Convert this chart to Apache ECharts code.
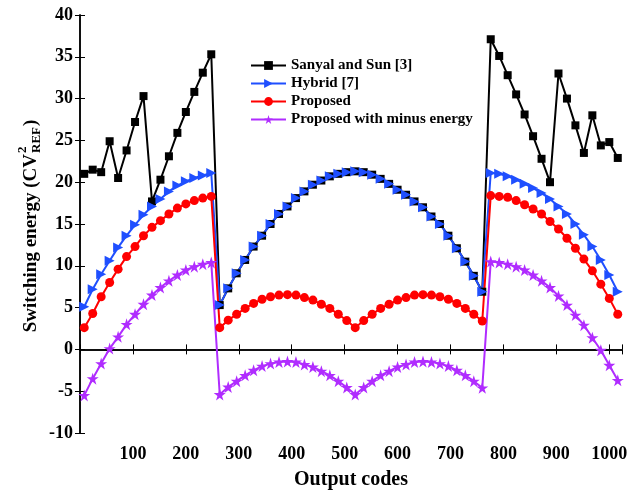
<!DOCTYPE html>
<html>
<head>
<meta charset="utf-8">
<script src="https://cdn.jsdelivr.net/npm/echarts@6/dist/echarts.min.js"></script>
<style>
    html, body {margin: 0; padding: 0; background: #fff;}
    #chart {width: 638px; height: 495px;}
</style>
</head>
<body>
<div id="chart"></div>
<script>
// output codes where markers sit
var codes = [8, 24, 40, 56, 72, 88, 104, 120, 136, 152, 168, 184, 200, 216, 232, 248,
    264, 280, 296, 312, 328, 344, 360, 376, 392, 408, 424, 440, 456, 472, 488, 504,
    520, 536, 552, 568, 584, 600, 616, 632, 648, 664, 680, 696, 712, 728, 744, 760,
    776, 792, 808, 824, 840, 856, 872, 888, 904, 920, 936, 952, 968, 984, 1000, 1016];

var sanyal = [21.0, 21.5, 21.2, 24.9, 20.5, 23.8, 27.2, 30.3, 17.7, 20.3, 23.1, 25.9, 28.4, 30.8, 33.1, 35.3,
    5.3, 7.3, 9.1, 10.7, 12.3, 13.6, 15.0, 16.2, 17.1, 18.1, 18.9, 19.7, 20.2, 20.7, 21.0, 21.2,
    21.3, 21.2, 20.9, 20.4, 19.8, 19.1, 18.5, 17.7, 17.0, 15.9, 15.0, 13.6, 12.1, 10.5, 8.8, 6.9,
    37.1, 35.1, 32.8, 30.5, 28.1, 25.5, 22.8, 20.0, 33.0, 30.0, 26.8, 23.5, 28.0, 24.4, 24.8, 22.9];

var hybrid = [5.1, 7.2, 9.0, 10.6, 12.2, 13.6, 14.9, 16.1, 17.1, 18.0, 18.9, 19.6, 20.1, 20.5, 20.8, 21.1,
    5.3, 7.3, 9.1, 10.7, 12.3, 13.6, 15.0, 16.2, 17.1, 18.1, 18.9, 19.7, 20.2, 20.7, 21.0, 21.2,
    21.3, 21.2, 20.9, 20.4, 19.8, 19.1, 18.5, 17.7, 17.0, 15.9, 15.0, 13.6, 12.1, 10.5, 8.8, 6.9,
    21.1, 21.0, 20.7, 20.3, 19.8, 19.3, 18.7, 18.0, 17.1, 16.2, 15.0, 13.7, 12.3, 10.7, 8.9, 6.9];

var proposed = [2.6, 4.3, 6.3, 8.0, 9.6, 11.1, 12.3, 13.6, 14.6, 15.4, 16.2, 16.9, 17.4, 17.8, 18.1, 18.3,
    2.6, 3.5, 4.2, 4.9, 5.5, 6.0, 6.3, 6.5, 6.55, 6.5, 6.2, 5.9, 5.4, 4.9, 4.2, 3.45,
    2.6, 3.45, 4.2, 4.9, 5.4, 5.9, 6.2, 6.5, 6.55, 6.5, 6.3, 6.0, 5.5, 4.9, 4.2, 3.4,
    18.4, 18.3, 18.2, 17.8, 17.3, 16.8, 16.2, 15.3, 14.4, 13.3, 12.1, 10.8, 9.4, 7.8, 6.1, 4.2];

var minusEnergy = [-5.5, -3.5, -1.7, 0.1, 1.5, 3.0, 4.2, 5.4, 6.5, 7.4, 8.2, 8.9, 9.5, 9.9, 10.2, 10.4,
    -5.4, -4.5, -3.8, -3.1, -2.5, -2.0, -1.7, -1.5, -1.45, -1.5, -1.8, -2.1, -2.6, -3.1, -3.8, -4.55,
    -5.4, -4.55, -3.8, -3.1, -2.6, -2.1, -1.8, -1.5, -1.45, -1.5, -1.7, -2.0, -2.5, -3.1, -3.8, -4.6,
    10.5, 10.4, 10.2, 9.9, 9.5, 8.9, 8.2, 7.4, 6.4, 5.3, 4.1, 2.9, 1.4, -0.1, -1.9, -3.7];

var seriesNames = ['Sanyal and Sun [3]', 'Hybrid [7]', 'Proposed', 'Proposed with minus energy'];
var xTicks = [100, 200, 300, 400, 500, 600, 700, 800, 900, 1000];

var FONT = 'Liberation Serif';

function pairs(ys) {
    return codes.map(function (c, i) { return [c, ys[i]]; });
}

function textWidth(str, size) {
    var ctx = document.createElement('canvas').getContext('2d');
    ctx.font = 'bold ' + size + 'px "' + FONT + '"';
    return ctx.measureText(str).width;
}

// y axis title with stacked super/subscript
function yTitle() {
    var main = 'Switching energy (CV';
    var w1 = textWidth(main, 19);
    var wRef = textWidth('REF', 13);
    var total = w1 + 1 + wRef + 1 + textWidth(')', 19);
    var common = {fontFamily: FONT, fontWeight: 'bold', fill: '#000', verticalAlign: 'middle', align: 'left'};
    return {
        type: 'group',
        x: 31,
        y: 226 + total / 2,
        rotation: Math.PI / 2,
        children: [
            {type: 'text', x: 0, y: 0, style: Object.assign({text: main, fontSize: 19}, common)},
            {type: 'text', x: w1 + 1, y: -8, style: Object.assign({text: '2', fontSize: 13}, common)},
            {type: 'text', x: w1 + 1, y: 6, style: Object.assign({text: 'REF', fontSize: 13}, common)},
            {type: 'text', x: w1 + 2 + wRef, y: 0, style: Object.assign({text: ')', fontSize: 19}, common)}
        ]
    };
}

var chart = echarts.init(document.getElementById('chart'));

var frameLine = {show: true, lineStyle: {color: '#000', width: 1.5}};
var tickIn = {show: true, inside: true, length: 5, lineStyle: {color: '#000', width: 1}};
var tickFont = {color: '#000', fontFamily: FONT, fontWeight: 'bold', fontSize: 18};

var option = {
    animation: false,
    backgroundColor: '#fff',
    grid: {left: 80, right: 16, top: 15, bottom: 50, containLabel: false},
    legend: {
        orient: 'vertical',
        left: 245,
        top: 53,
        itemWidth: 35,
        itemHeight: 11,
        itemGap: 3,
        textStyle: {color: '#000', fontFamily: FONT, fontWeight: 'bold', fontSize: 15},
        data: seriesNames
    },
    xAxis: [
        {
            type: 'value',
            min: 0,
            max: 1024,
            interval: 100,
            axisLine: frameLine,
            axisTick: tickIn,
            splitLine: {show: false},
            axisLabel: Object.assign({
                margin: 12,
                formatter: function (v) { return xTicks.indexOf(v) >= 0 ? String(v) : ''; }
            }, tickFont),
            name: 'Output codes',
            nameLocation: 'middle',
            nameGap: 37,
            nameTextStyle: {color: '#000', fontFamily: FONT, fontWeight: 'bold', fontSize: 20}
        },
        {
            type: 'value',
            position: 'top',
            min: 0,
            max: 1024,
            interval: 100,
            axisLine: frameLine,
            axisTick: tickIn,
            axisLabel: {show: false},
            splitLine: {show: false}
        }
    ],
    yAxis: [
        {
            type: 'value',
            min: -10,
            max: 40,
            interval: 5,
            axisLine: frameLine,
            axisTick: tickIn,
            splitLine: {show: false},
            axisLabel: Object.assign({margin: 7}, tickFont)
        },
        {
            type: 'value',
            position: 'right',
            min: -10,
            max: 40,
            interval: 5,
            axisLine: frameLine,
            axisTick: tickIn,
            axisLabel: {show: false},
            splitLine: {show: false}
        }
    ],
    graphic: [yTitle()],
    series: [
        {
            name: seriesNames[0],
            type: 'line',
            data: pairs(sanyal),
            color: '#000000',
            symbol: 'rect',
            symbolSize: 8,
            lineStyle: {width: 2}
        },
        {
            name: seriesNames[1],
            type: 'line',
            data: pairs(hybrid),
            color: '#1f4fff',
            symbol: 'triangle',
            symbolRotate: -90,
            symbolSize: 10,
            lineStyle: {width: 2}
        },
        {
            name: seriesNames[2],
            type: 'line',
            data: pairs(proposed),
            color: '#ff0000',
            symbol: 'circle',
            symbolSize: 9,
            lineStyle: {width: 2}
        },
        {
            name: seriesNames[3],
            type: 'line',
            data: pairs(minusEnergy),
            color: '#b02cff',
            symbol: 'path://M50,0 L61.8,35.4 L100,35.4 L69.1,57.3 L80.9,93.1 L50,71.3 L19.1,93.1 L30.9,57.3 L0,35.4 L38.2,35.4 Z',
            symbolSize: 12,
            lineStyle: {width: 2}
        }
    ]
};

chart.setOption(option);
</script>
</body>
</html>
